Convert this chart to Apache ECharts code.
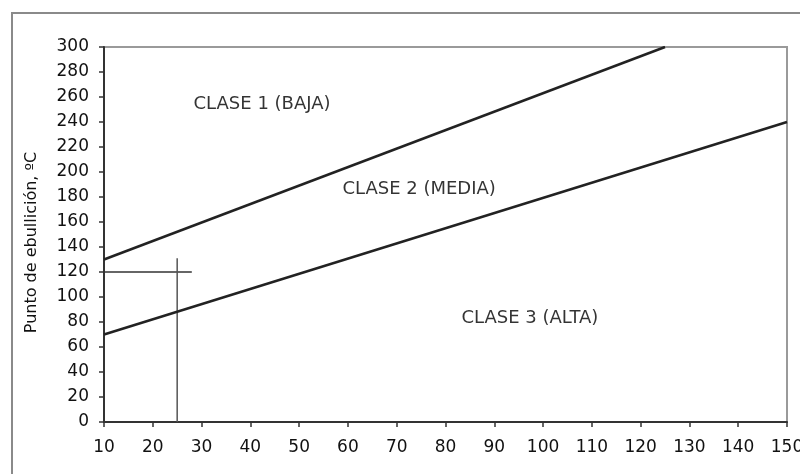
<!DOCTYPE html>
<html><head><meta charset="utf-8">
<script src="https://cdn.jsdelivr.net/npm/echarts@6/dist/echarts.min.js"></script>
<style>html,body{margin:0;padding:0;background:#fff}#c{width:800px;height:474px}</style>
</head><body><div id="c"></div>
<script>
const yAxisTitle = 'Punto de ebullición, ºC';
const xTicks = {min: 10, max: 150, step: 10};
const yTicks = {min: 0, max: 300, step: 20};
const upperBoundary = [[10, 130], [125, 300]];
const lowerBoundary = [[10, 70], [150, 240]];
const crossH = [[10, 120], [28, 120]];
const crossV = [[25, 0], [25, 131]];
const classNames = ['CLASE 1 (BAJA)', 'CLASE 2 (MEDIA)', 'CLASE 3 (ALTA)'];
const classAnchors = [[42.4, 254], [74.6, 186], [97.3, 83]];

const chart = echarts.init(document.getElementById('c'), null, {renderer: 'canvas'});
const font = 'DejaVu Sans, Liberation Sans, sans-serif';
const lineS = (data, w, c, z) => ({type: 'line', data, symbol: 'none', lineStyle: {color: c, width: w}, z, silent: true});
chart.setOption({
  animation: false,
  graphic: [{type: 'rect', shape: {x: 12, y: 13, width: 800, height: 480}, style: {fill: 'none', stroke: '#8a8a8a', lineWidth: 2}, z: -1}],
  grid: {left: 104, right: 13, top: 47, bottom: 52, outerBoundsMode: 'none', containLabel: false,
    show: true, borderColor: '#9a9a9a', borderWidth: 2, backgroundColor: 'transparent'},
  xAxis: {type: 'value', min: xTicks.min, max: xTicks.max, interval: xTicks.step,
    axisLine: {lineStyle: {color: '#333', width: 2}}, axisTick: {inside: false, length: 5, lineStyle: {color: '#333', width: 1.5}},
    axisLabel: {color: '#111', fontSize: 17, fontFamily: font, margin: 17, showMaxLabel: true, hideOverlap: false}, splitLine: {show: false}},
  yAxis: {type: 'value', min: yTicks.min, max: yTicks.max, interval: yTicks.step,
    name: yAxisTitle, nameLocation: 'middle', nameGap: 64, nameRotate: 90,
    nameTextStyle: {color: '#111', fontSize: 16, fontFamily: font, padding: [0, 16, 0, 0]},
    axisLine: {show: true, lineStyle: {color: '#333', width: 2}}, axisTick: {show: true, length: 5, lineStyle: {color: '#333', width: 1.5}},
    axisLabel: {color: '#111', fontSize: 17, fontFamily: font, margin: 15}, splitLine: {show: false}},
  series: [
    lineS(upperBoundary, 2.5, '#222', 3),
    lineS(lowerBoundary, 2.5, '#222', 3),
    lineS(crossH, 1.5, '#333', 2),
    lineS(crossV, 1.5, '#555', 2),
    {type: 'scatter', symbolSize: 0, silent: true,
      data: classAnchors.map((p, i) => ({value: p, name: classNames[i]})),
      label: {show: true, position: 'inside', formatter: p => p.name, color: '#000', fontSize: 18, fontFamily: font}}
  ]
});
</script></body></html>
